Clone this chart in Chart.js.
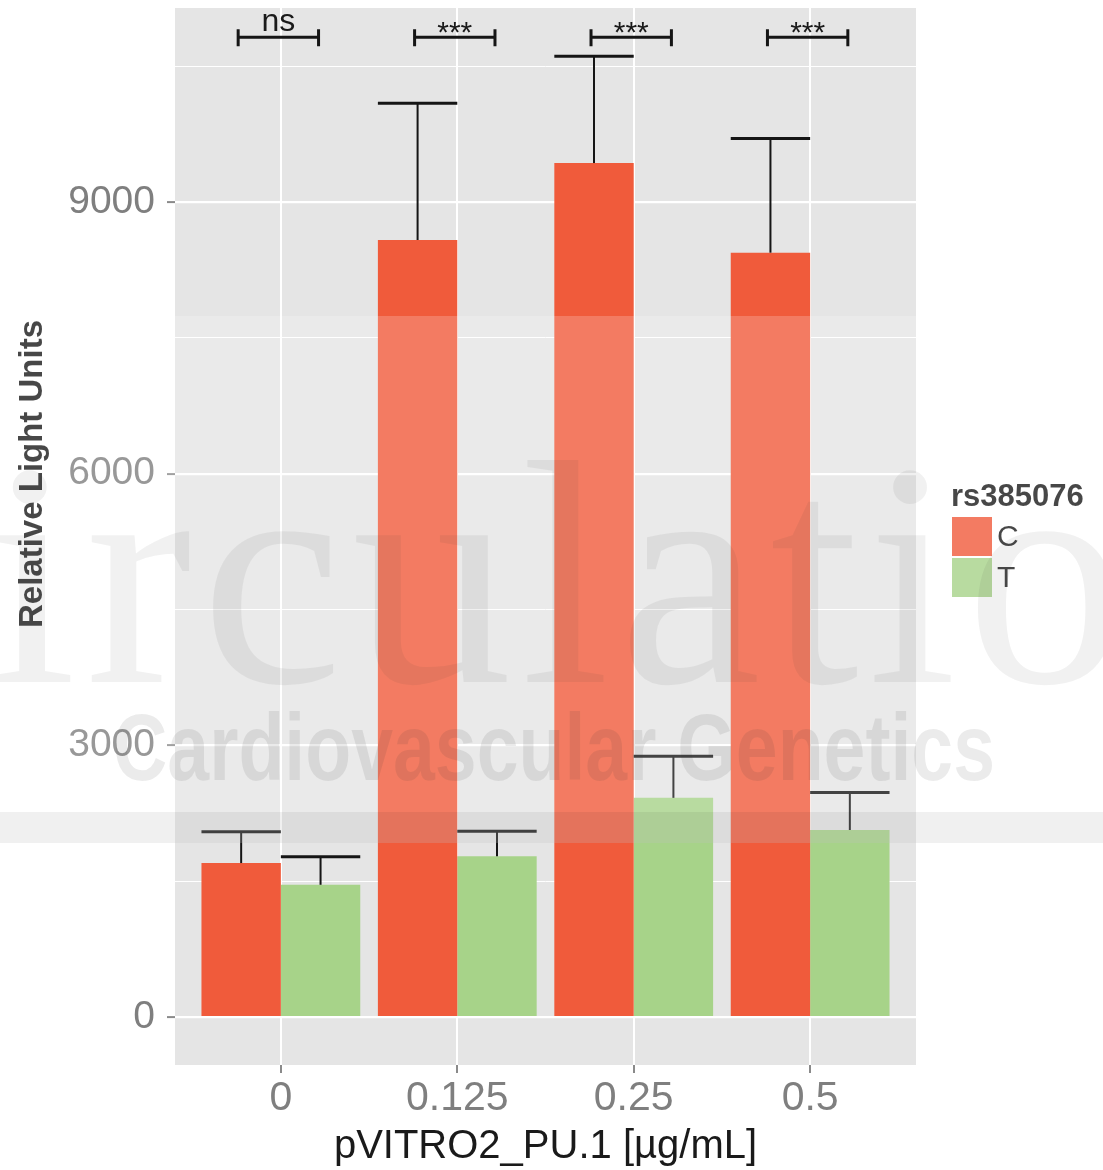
<!DOCTYPE html>
<html>
<head>
<meta charset="utf-8">
<script src="https://cdn.jsdelivr.net/npm/chart.js@4.4.1/dist/chart.umd.min.js"></script>
<style>
  html, body { margin: 0; padding: 0; background: #ffffff; }
  #wrap { width: 1103px; height: 1170px; position: relative; }
</style>
</head>
<body>
<div id="wrap"><canvas id="c" width="1103" height="1170"></canvas></div>
<script>
// Luciferase readout per pVITRO2_PU.1 dose, split by rs385076 allele
const doses = ['0', '0.125', '0.25', '0.5'];
const alleles = ['C', 'T'];
const meanC = [1700, 8580, 9430, 8440];
const errC  = [345, 1510, 1180, 1260];
const meanT = [1460, 1775, 2420, 2065];
const errT  = [310, 275, 460, 415];
const sigLabels = ['ns', '***', '***', '***'];
const sigLevel = 10820;
const yTickValues = [0, 1500, 3000, 4500, 6000, 7500, 9000, 10500];
const alleleColors = ['#F05B3B', '#A7D389'];

const FONT = '"Liberation Sans", Arial, Helvetica, sans-serif';

// grey panel behind the plotting area
const panelPlugin = {
  id: 'panel',
  beforeDraw(chart) {
    const { ctx, chartArea: a } = chart;
    ctx.save();
    ctx.fillStyle = '#E5E5E5';
    ctx.fillRect(a.left, a.top, a.right - a.left, a.bottom - a.top);
    ctx.restore();
  }
};

// upper error bars and significance brackets
const errorPlugin = {
  id: 'errors',
  afterDatasetsDraw(chart) {
    const ctx = chart.ctx;
    const ys = chart.scales.y;
    ctx.save();
    ctx.strokeStyle = '#151515';
    ctx.lineCap = 'butt';
    chart.data.datasets.forEach((ds, di) => {
      const meta = chart.getDatasetMeta(di);
      meta.data.forEach((bar, i) => {
        const v = ds.data[i].y;
        const top = ys.getPixelForValue(v + ds.errors[i]);
        const half = bar.width / 2;
        ctx.lineWidth = 2;
        ctx.beginPath();
        ctx.moveTo(bar.x, bar.y);
        ctx.lineTo(bar.x, top);
        ctx.stroke();
        ctx.lineWidth = 3;
        ctx.beginPath();
        ctx.moveTo(bar.x - half, top);
        ctx.lineTo(bar.x + half, top);
        ctx.stroke();
      });
    });
    const m0 = chart.getDatasetMeta(0), m1 = chart.getDatasetMeta(1);
    const yb = ys.getPixelForValue(sigLevel);
    sigLabels.forEach((lab, i) => {
      const xl = m0.data[i].x - 3, xr = m1.data[i].x - 2;
      ctx.lineWidth = 3;
      ctx.beginPath();
      ctx.moveTo(xl, yb); ctx.lineTo(xr, yb);
      ctx.moveTo(xl, yb - 8); ctx.lineTo(xl, yb + 9);
      ctx.moveTo(xr, yb - 8); ctx.lineTo(xr, yb + 9);
      ctx.stroke();
      ctx.fillStyle = '#1a1a1a';
      ctx.textAlign = 'center';
      ctx.textBaseline = 'alphabetic';
      const xc = (xl + xr) / 2;
      if (lab === 'ns') {
        ctx.font = '32px ' + FONT;
        ctx.fillText(lab, xc, yb - 6);
      } else {
        ctx.font = '30px ' + FONT;
        ctx.fillText(lab, xc, yb + 5);
      }
    });
    ctx.restore();
  }
};

// axis titles, legend and the journal overlay band
const decorPlugin = {
  id: 'decor',
  afterDraw(chart) {
    const ctx = chart.ctx;
    const a = chart.chartArea;
    ctx.save();
    // x axis title
    ctx.fillStyle = '#1a1a1a';
    ctx.font = '40px ' + FONT;
    ctx.textAlign = 'center';
    ctx.textBaseline = 'alphabetic';
    ctx.fillText('pVITRO2_PU.1 [µg/mL]', (a.left + a.right) / 2, 1158);
    // y axis title
    ctx.save();
    ctx.translate(42, 474);
    ctx.rotate(-Math.PI / 2);
    ctx.font = 'bold 33px ' + FONT;
    ctx.fillText('Relative Light Units', 0, 0);
    ctx.restore();

    // legend
    ctx.textAlign = 'left';
    ctx.font = 'bold 31px ' + FONT;
    ctx.fillStyle = '#1a1a1a';
    ctx.fillText('rs385076', 951, 506);
    chart.data.datasets.forEach((ds, i) => {
      const top = 517 + i * 41;
      ctx.fillStyle = ds.backgroundColor;
      ctx.fillRect(952, top, 40, 39);
      ctx.fillStyle = '#1a1a1a';
      ctx.font = '30px ' + FONT;
      ctx.textBaseline = 'middle';
      ctx.fillText(ds.label, 997, top + 21);
      ctx.textBaseline = 'alphabetic';
    });

    // watermark lettering
    ctx.fillStyle = 'rgba(0,0,0,0.07)';
    ctx.font = '320px "Liberation Serif", "Times New Roman", serif';
    ctx.letterSpacing = '9px';
    ctx.fillText('Circulation', -235, 682);
    ctx.letterSpacing = '0px';
    ctx.font = 'bold 95px ' + FONT;
    const t2 = 'Cardiovascular Genetics';
    const w2 = ctx.measureText(t2).width;
    ctx.save();
    ctx.translate(113, 780);
    ctx.scale(882 / w2, 1);
    ctx.fillStyle = 'rgba(0,0,0,0.1)';
    ctx.fillText(t2, 0, 0);
    ctx.restore();

    // light band and its lower stripe
    ctx.fillStyle = 'rgba(255,255,255,0.2)';
    ctx.fillRect(0, 316, chart.width, 527);
    ctx.fillStyle = 'rgba(0,0,0,0.06)';
    ctx.fillRect(0, 812, chart.width, 31);
    ctx.restore();
  }
};

const isMajor = v => v % 3000 === 0;

new Chart(document.getElementById('c'), {
  type: 'bar',
  data: {
    datasets: [
      {
        label: alleles[0],
        data: meanC.map((v, i) => ({ x: i + 1, y: v })),
        errors: errC,
        backgroundColor: alleleColors[0],
        borderWidth: 0,
        categoryPercentage: 0.9,
        barPercentage: 1.0
      },
      {
        label: alleles[1],
        data: meanT.map((v, i) => ({ x: i + 1, y: v })),
        errors: errT,
        backgroundColor: alleleColors[1],
        borderWidth: 0,
        categoryPercentage: 0.9,
        barPercentage: 1.0
      }
    ]
  },
  options: {
    responsive: false,
    animation: false,
    devicePixelRatio: 1,
    layout: { padding: { top: 8, right: 187, left: 0, bottom: 0 } },
    plugins: { legend: { display: false }, tooltip: { enabled: false } },
    scales: {
      x: {
        type: 'linear',
        offset: false,
        min: 0.4,
        max: 4.6,
        afterBuildTicks: s => { s.ticks = doses.map((d, i) => ({ value: i + 1 })); },
        afterFit: s => { s.height = 105; s.paddingLeft = 0; s.paddingRight = 0; },
        ticks: {
          autoSkip: false,
          maxRotation: 0,
          padding: 1,
          color: '#7F7F7F',
          font: { family: FONT, size: 41 },
          callback: v => doses[Math.round(v) - 1]
        },
        grid: {
          offset: false,
          color: '#FFFFFF',
          lineWidth: 2,
          drawTicks: true,
          tickLength: 8,
          tickColor: '#8A8A8A',
          tickWidth: 2
        },
        border: { display: false }
      },
      y: {
        type: 'linear',
        min: -530,
        max: 11142,
        afterBuildTicks: s => { s.ticks = yTickValues.map(v => ({ value: v })); },
        afterFit: s => { s.width = 175; s.paddingTop = 0; s.paddingBottom = 0; },
        ticks: {
          autoSkip: false,
          padding: 12,
          color: '#7F7F7F',
          font: { family: FONT, size: 39 },
          callback: v => (isMajor(v) ? String(v) : '')
        },
        grid: {
          color: '#FFFFFF',
          lineWidth: c => (c.tick && isMajor(c.tick.value) ? 2.2 : 1),
          drawTicks: true,
          tickLength: 8,
          tickColor: c => (c.tick && isMajor(c.tick.value) ? '#8A8A8A' : 'rgba(0,0,0,0)'),
          tickWidth: 2
        },
        border: { display: false }
      }
    }
  },
  plugins: [panelPlugin, errorPlugin, decorPlugin]
});
</script>
</body>
</html>
